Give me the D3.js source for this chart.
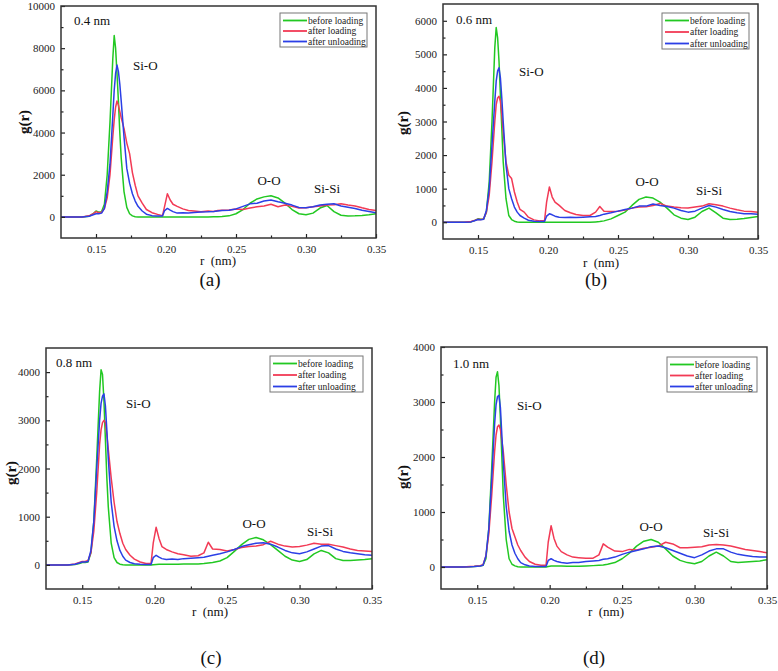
<!DOCTYPE html>
<html><head><meta charset="utf-8">
<script src="https://cdn.jsdelivr.net/npm/d3@7/dist/d3.min.js"></script>
<style>
body{margin:0;background:#fff;}
</style></head>
<body><svg id="c" width="778" height="671"></svg>
<script>
// shared r grid (nm)
const r = [0.125,0.140,0.145,0.148,0.150,0.152,0.154,0.156,0.158,0.160,0.162,0.163,0.164,0.165,0.166,0.167,0.168,0.170,0.172,0.174,0.176,0.178,0.180,0.183,0.186,0.190,0.194,0.1975,0.199,0.201,0.203,0.205,0.208,0.212,0.216,0.220,0.225,0.230,0.234,0.237,0.240,0.245,0.250,0.255,0.260,0.265,0.270,0.275,0.280,0.285,0.290,0.295,0.300,0.305,0.310,0.315,0.320,0.325,0.330,0.335,0.340,0.345,0.350];

// (a) 0.4 nm
const a_before = [0,0,30,150,280,220,250,600,2000,4500,7500,8600,8000,6800,5500,4000,2800,1200,450,150,50,10,0,0,0,0,0,0,0,0,0,0,0,0,0,0,0,0,5,10,20,50,150,350,650,850,950,1000,900,650,350,150,100,180,420,540,250,80,40,50,70,100,150];
const a_after = [0,0,50,150,250,200,220,400,900,2000,3800,4600,5200,5500,5300,5000,4700,4200,3500,3000,2100,1500,1000,650,350,200,120,60,500,1100,800,600,500,380,300,280,250,280,260,300,320,330,380,350,420,480,520,600,480,560,500,420,430,480,520,560,580,620,560,520,430,350,300];
const a_unload = [0,0,30,100,150,150,180,400,1200,2500,4800,6000,6800,7200,6900,6300,5500,3800,2300,1600,1100,750,500,280,130,60,40,40,300,400,320,250,180,200,190,210,230,240,260,280,300,320,380,500,620,650,750,800,720,650,560,450,430,480,560,600,620,520,460,400,320,260,200];

// (b) 0.6 nm
const b_before = [0,0,10,60,100,90,90,300,1200,3000,5200,5800,5500,4800,3800,2800,1800,700,200,80,30,5,0,0,0,0,0,0,0,0,0,0,0,0,0,0,0,0,10,20,40,100,200,300,500,680,750,720,600,420,220,120,80,150,320,420,280,120,80,90,110,140,170];
const b_after = [0,0,20,60,90,80,100,300,800,1800,3000,3500,3700,3750,3600,3200,2700,1800,1400,1300,900,600,380,300,150,70,40,40,600,1050,750,600,500,350,280,230,200,200,300,470,330,320,330,360,420,450,460,500,560,480,450,430,420,450,480,550,520,480,420,370,330,320,300];
const b_unload = [0,0,10,50,80,70,90,350,1000,2300,3600,4200,4500,4600,4300,3700,3000,1700,1000,700,450,300,200,120,60,30,20,20,180,250,220,180,150,140,150,140,150,160,170,200,240,280,330,380,420,480,480,540,500,470,420,350,300,330,420,500,450,380,320,280,250,250,240];

// (c) 0.8 nm
const c_before = [0,0,10,30,50,50,60,250,900,2200,3600,4050,3950,3400,2600,1800,1200,450,150,50,15,5,0,0,0,0,0,0,5,10,15,15,15,15,15,20,20,20,30,40,50,80,150,280,420,530,570,520,420,300,180,100,70,110,230,300,250,130,90,90,100,110,130];
const c_after = [0,0,20,50,70,70,90,250,700,1500,2500,2800,2950,3000,2950,2700,2400,1800,1300,900,650,450,320,200,120,60,30,30,450,780,550,380,320,270,230,210,180,190,250,470,330,320,290,320,360,380,390,420,490,430,390,370,380,410,450,430,430,400,370,330,300,290,280];
const c_unload = [0,0,15,40,60,60,70,300,900,2000,3000,3350,3500,3550,3300,2800,2200,1300,800,500,300,180,100,50,25,15,10,10,150,200,160,130,110,120,110,130,140,150,160,180,200,230,270,320,380,420,450,460,430,370,300,250,230,270,330,390,400,330,280,250,230,210,200];

// (d) 1.0 nm
const d_before = [0,0,5,10,15,20,30,150,700,1800,3000,3450,3550,3300,2700,2000,1300,500,150,50,20,5,0,0,0,0,0,0,10,20,20,20,20,15,15,15,20,25,30,35,50,80,150,250,380,470,500,450,330,200,120,80,60,100,200,270,200,100,80,90,100,110,130];
const d_after = [0,0,10,15,20,25,40,200,600,1300,2100,2400,2550,2580,2500,2300,2100,1500,1000,700,550,400,300,180,100,50,30,30,450,750,520,380,280,220,180,170,160,160,220,420,360,290,280,320,310,340,360,380,450,420,350,350,360,370,400,410,400,380,350,320,300,280,260];
const d_unload = [0,0,5,10,15,20,30,200,700,1600,2600,2950,3100,3120,2900,2400,1900,1100,650,400,250,150,80,40,20,10,10,10,120,150,120,100,80,70,80,80,100,110,120,140,150,180,230,270,300,330,370,380,350,300,250,200,170,220,290,330,330,270,230,210,190,180,180];

// tick labels
const xTicks = [0.15,0.20,0.25,0.30,0.35];
const xMinor = [0.175,0.225,0.275,0.325];
const yTicksA = [0,2000,4000,6000,8000,10000];
const yTicksB = [0,1000,2000,3000,4000,5000,6000];
const yTicksC = [0,1000,2000,3000,4000];
const yTicksD = [0,1000,2000,3000,4000];
const seriesNames = ["before loading","after loading","after unloading"];
const seriesColors = ["#22c822","#f23a55","#2b3fe6"];
const peakLabels = ["Si-O","O-O","Si-Si"];

const panels = [
 {tag:"(a)", size:"0.4 nm", x0:61,x1:376,y0:6,y1:238, yd:[-1000,10000], yt:yTicksA, ymStep:1000, data:[a_before,a_after,a_unload],
  leg:[280,13,87,34], sizePos:[74,25], peaks:[[133,70],[269,185],[327,193]], gl:[24,122], xl:[218,265], tagPos:[210,286]},
 {tag:"(b)", size:"0.6 nm", x0:443,x1:758,y0:4,y1:239, yd:[-500,6500], yt:yTicksB, ymStep:500, data:[b_before,b_after,b_unload],
  leg:[662,13,87,36], sizePos:[456,24], peaks:[[519,76],[647,186],[709,195]], gl:[403,123], xl:[601,267], tagPos:[596,286]},
 {tag:"(c)", size:"0.8 nm", x0:46,x1:372,y0:348,y1:589, yd:[-500,4500], yt:yTicksC, ymStep:500, data:[c_before,c_after,c_unload],
  leg:[270,356,93,36], sizePos:[56,367], peaks:[[126,408],[254,528],[320,536]], gl:[11,473], xl:[210,616], tagPos:[211,664]},
 {tag:"(d)", size:"1.0 nm", x0:441,x1:767,y0:347,y1:589, yd:[-400,4000], yt:yTicksD, ymStep:500, data:[d_before,d_after,d_unload],
  leg:[667,357,90,35], sizePos:[453,368], peaks:[[517,410],[651,531],[716,537]], gl:[403,477], xl:[606,616], tagPos:[594,664]}
];

const FONT = "'Liberation Serif', 'Times New Roman', serif";
const svg = d3.select("#c");
const ink = "#222";

panels.forEach(p => {
  const g = svg.append("g");
  const x = d3.scaleLinear().domain([0.125,0.35]).range([p.x0,p.x1]);
  const y = d3.scaleLinear().domain(p.yd).range([p.y1,p.y0]);

  const cid = "clip"+p.tag.replace(/[()]/g,"");
  svg.append("clipPath").attr("id",cid).append("rect")
    .attr("x",p.x0).attr("y",p.y0).attr("width",p.x1-p.x0).attr("height",p.y1-p.y0);

  const line = d3.line().x((d,i)=>x(r[i])).y(d=>y(d));
  [0,1,2].forEach(k=>{
    g.append("path").datum(p.data[k]).attr("d",line)
      .attr("fill","none").attr("stroke",seriesColors[k]).attr("stroke-width",1.5)
      .attr("stroke-linejoin","round").attr("clip-path",`url(#${cid})`);
  });

  const xAxis = d3.axisBottom(x).tickValues(xTicks).tickSize(-4).tickPadding(7).tickFormat(d3.format(".2f"));
  const xa = g.append("g").attr("transform",`translate(0,${p.y1})`).call(xAxis);
  const xm = g.append("g").attr("transform",`translate(0,${p.y1})`).call(d3.axisBottom(x).tickValues(xMinor).tickSize(-2.5).tickFormat(""));
  const yAxis = d3.axisLeft(y).tickValues(p.yt).tickSize(-4).tickPadding(6).tickFormat(d3.format("d"));
  const ya = g.append("g").attr("transform",`translate(${p.x0},0)`).call(yAxis);
  const yMinorVals = d3.range(p.yt[0]+p.ymStep, p.yt[p.yt.length-1], p.ymStep*2).concat([p.yt[0]-p.ymStep]).filter(v=>v>p.yd[0] && v<p.yd[1]);
  const ym = g.append("g").attr("transform",`translate(${p.x0},0)`).call(d3.axisLeft(y).tickValues(yMinorVals).tickSize(-2.5).tickFormat(""));
  [xa,xm,ya,ym].forEach(a=>{
    a.attr("font-family",null).attr("font-size",null);
    a.select(".domain").remove();
    a.selectAll("line").attr("stroke",ink).attr("stroke-width",1.2);
    a.selectAll("text").attr("fill",ink).attr("font-size","11px");
  });

  g.append("rect").attr("x",p.x0).attr("y",p.y0).attr("width",p.x1-p.x0).attr("height",p.y1-p.y0)
    .attr("fill","none").attr("stroke","#333").attr("stroke-width",1.5);

  const [lx,ly,lw,lh] = p.leg;
  const lg = g.append("g");
  lg.append("rect").attr("x",lx).attr("y",ly).attr("width",lw).attr("height",lh)
    .attr("fill","#fff").attr("stroke","#777").attr("stroke-width",1);
  seriesNames.forEach((n,k)=>{
    const yy = ly + 7 + k*(lh-13)/2 + 0.5;
    lg.append("line").attr("x1",lx+3).attr("x2",lx+27).attr("y1",yy).attr("y2",yy)
      .attr("stroke",seriesColors[k]).attr("stroke-width",1.8);
    lg.append("text").attr("x",lx+28).attr("y",yy+3.2).text(n)
      .attr("fill",ink).attr("font-size","9.5px");
  });

  g.append("text").attr("x",p.sizePos[0]).attr("y",p.sizePos[1]).text(p.size).attr("fill","#111").attr("font-size","13px");
  peakLabels.forEach((t,k)=>{
    g.append("text").attr("x",p.peaks[k][0]).attr("y",p.peaks[k][1]).text(t)
      .attr("text-anchor",k===0?"start":"middle").attr("fill","#111").attr("font-size","13px");
  });

  g.append("text").attr("transform",`translate(${p.gl[0]},${p.gl[1]}) rotate(-90)`).attr("text-anchor","middle")
    .attr("dy","0.35em").text("g(r)").attr("fill","#111").attr("font-size","15px").attr("font-weight","bold");
  g.append("text").attr("x",p.xl[0]).attr("y",p.xl[1]).attr("text-anchor","middle")
    .style("white-space","pre").text("r  (nm)").attr("fill","#111").attr("font-size","13px");
  g.append("text").attr("x",p.tagPos[0]).attr("y",p.tagPos[1]).attr("text-anchor","middle")
    .text(p.tag).attr("fill","#111").attr("font-size","19px");
});

svg.selectAll("text").style("font-family", FONT);
</script></body></html>
